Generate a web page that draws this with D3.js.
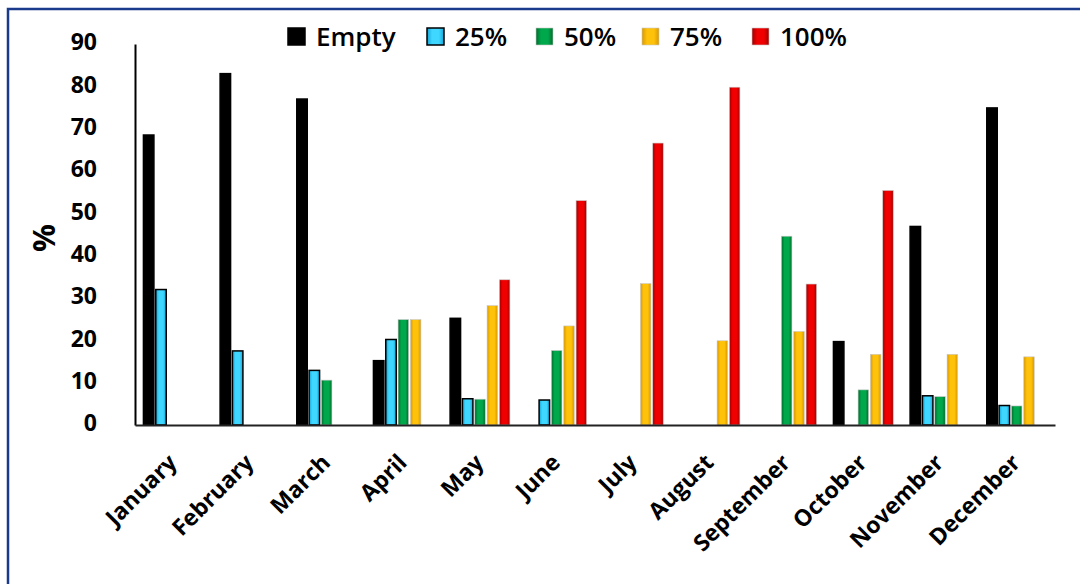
<!DOCTYPE html>
<html>
<head>
<meta charset="utf-8">
<script src="https://cdn.jsdelivr.net/npm/d3@7"></script>
<style>
  body { margin: 0; background: #fff; }
  svg { display: block; }
  .tick text { fill: #000; }
</style>
</head>
<body>
<svg width="1080" height="584"></svg>
<script>
var months = ["January","February","March","April","May","June","July","August","September","October","November","December"];
var seriesNames = ["Empty","25%","50%","75%","100%"];
var empty = [68.5, 83, 77, 15.2, 25.2, 0, 0, 0, 0, 19.7, 46.9, 74.9];
var p25   = [32, 17.5, 12.9, 20.2, 6.2, 5.9, 0, 0, 0, 0, 6.9, 4.6];
var p50   = [0, 0, 10.6, 24.9, 6.1, 17.6, 0, 0, 44.6, 8.3, 6.7, 4.5];
var p75   = [0, 0, 0, 24.9, 28.2, 23.4, 33.4, 19.9, 22.1, 16.7, 16.7, 16.1];
var p100  = [0, 0, 0, 0, 34.3, 53, 66.6, 79.8, 33.3, 55.4, 0, 0];
var yTicks = [0, 10, 20, 30, 40, 50, 60, 70, 80, 90];

var seriesValues = [empty, p25, p50, p75, p100];
// edge / centre colours for the bevel-ish gradient
var colEdge   = ["#000000", "#14a6d6", "#006d2c", "#d99800", "#a00000"];
var colCenter = ["#000000", "#3fd6ff", "#00a84c", "#ffc20a", "#f00000"];

var svg = d3.select("svg"),
    width = +svg.attr("width"),
    height = +svg.attr("height");

var plotLeft = 135, plotRight = 1055, plotTop = 44, plotBottom = 425;

// frame
svg.append("rect")
   .attr("x", 8).attr("y", 9)
   .attr("width", 1100).attr("height", 600)
   .attr("fill", "none")
   .attr("stroke", "#1b3a8c")
   .attr("stroke-width", 2.5);

var defs = svg.append("defs");
seriesNames.forEach(function(s, i) {
    var gr = defs.append("linearGradient")
        .attr("id", "grad" + i)
        .attr("x1", "0%").attr("x2", "100%").attr("y1", "0%").attr("y2", "0%");
    gr.append("stop").attr("offset", "0%").attr("stop-color", colEdge[i]);
    gr.append("stop").attr("offset", "30%").attr("stop-color", colCenter[i]);
    gr.append("stop").attr("offset", "70%").attr("stop-color", colCenter[i]);
    gr.append("stop").attr("offset", "100%").attr("stop-color", colEdge[i]);
});

var x0 = d3.scaleBand()
    .domain(months)
    .range([plotLeft, plotRight])
    .paddingInner(0.22)
    .paddingOuter(0.11);

var x1 = d3.scaleBand()
    .domain(seriesNames)
    .range([0, x0.bandwidth()])
    .paddingInner(0.15);

var y = d3.scaleLinear()
    .domain([0, 90])
    .range([plotBottom, plotTop]);

var data = months.map(function(m, i) {
    return { month: m, values: seriesNames.map(function(s, j) {
        return { key: s, idx: j, value: seriesValues[j][i] };
    }) };
});

var groups = svg.append("g").selectAll("g")
    .data(data)
    .enter().append("g")
    .attr("transform", function(d) { return "translate(" + x0(d.month) + ",0)"; });

groups.selectAll("rect")
    .data(function(d) { return d.values.filter(function(v) { return v.value > 0; }); })
    .enter().append("rect")
    .attr("x", function(d) { return x1(d.key); })
    .attr("y", function(d) { return y(d.value); })
    .attr("width", x1.bandwidth())
    .attr("height", function(d) { return y(0) - y(d.value); })
    .attr("fill", function(d) { return "url(#grad" + d.idx + ")"; })
    .attr("stroke", function(d) { return d.idx < 2 ? "#000" : "#c8c8c8"; })
    .attr("stroke-width", function(d) { return d.idx < 2 ? 1.5 : 0.6; });

// y axis
var yAxis = svg.append("g")
    .attr("transform", "translate(" + plotLeft + ",0)")
    .call(d3.axisLeft(y).tickValues(yTicks).tickSize(0).tickPadding(38));
yAxis.select(".domain").attr("stroke", "#000").attr("stroke-width", 2);
yAxis.selectAll("text")
    .attr("font-family", "'Open Sans', sans-serif")
    .attr("font-weight", "bold")
    .attr("font-size", 23)
    .attr("dy", "0.25em");

// x axis
var xAxis = svg.append("g")
    .attr("transform", "translate(0," + plotBottom + ")")
    .call(d3.axisBottom(x0).tickSize(0));
xAxis.select(".domain").attr("stroke", "#222").attr("stroke-width", 2);
xAxis.selectAll("text")
    .attr("font-family", "'Open Sans', sans-serif")
    .attr("font-weight", "bold")
    .attr("font-size", 23)
    .attr("text-anchor", "end")
    .attr("x", 0).attr("y", 0).attr("dy", null)
    .attr("transform", "translate(5,39) rotate(-45)");

// y label
svg.append("text")
   .attr("transform", "translate(55,238) rotate(-90)")
   .attr("text-anchor", "middle")
   .attr("font-family", "'Open Sans', sans-serif")
   .attr("font-weight", "bold")
   .attr("font-size", 31)
   .text("%");

// legend
var legendX = [288, 427, 536, 642, 752];
var legend = svg.append("g").selectAll("g")
    .data(seriesNames)
    .enter().append("g")
    .attr("transform", function(d, i) { return "translate(" + legendX[i] + ",28)"; });

legend.append("rect")
    .attr("width", 17).attr("height", 17)
    .attr("fill", function(d, i) { return "url(#grad" + i + ")"; })
    .attr("stroke", function(d, i) { return i < 2 ? "#000" : "#c8c8c8"; })
    .attr("stroke-width", function(d, i) { return i < 2 ? 1.5 : 0.6; });

legend.append("text")
    .attr("x", 28).attr("y", 18)
    .attr("font-family", "'Open Sans', sans-serif")
    .attr("font-weight", 600)
    .attr("font-size", 26)
    .text(function(d) { return d; });
</script>
</body>
</html>
